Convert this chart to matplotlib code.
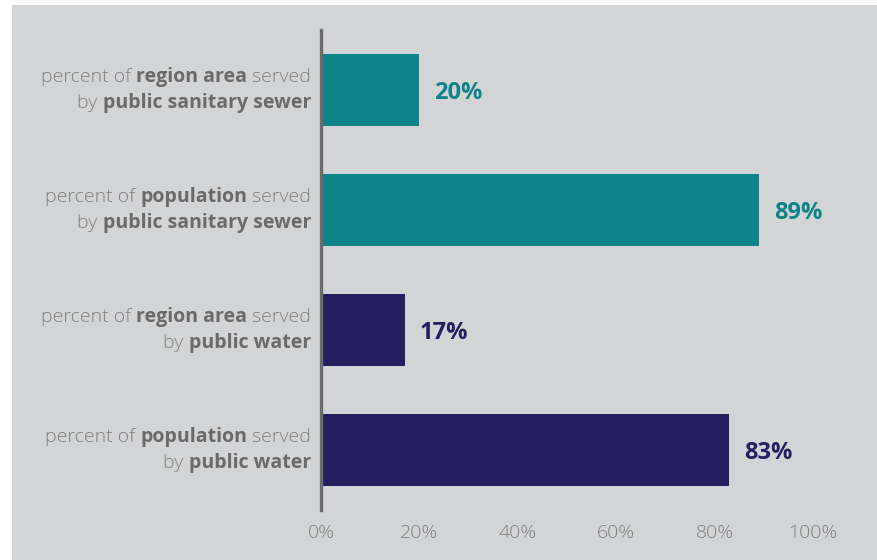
import matplotlib.pyplot as plt
from matplotlib.patches import Rectangle

# data, top to bottom
values = [20, 89, 17, 83]
line1 = [("percent of ", "region area", " served"),
         ("percent of ", "population", " served"),
         ("percent of ", "region area", " served"),
         ("percent of ", "population", " served")]
line2 = [("by ", "public sanitary sewer"),
         ("by ", "public sanitary sewer"),
         ("by ", "public water"),
         ("by ", "public water")]
bar_colors = ["#0e8388", "#0e8388", "#251f5f", "#251f5f"]
xticks = [0, 20, 40, 60, 80, 100]

FONT = "Open Sans"
GRAY = "#7f7f7f"
DARK = "#6a6a6a"

fig = plt.figure(figsize=(8.77, 5.6), dpi=100, facecolor="white")
fig.patches.append(Rectangle((12 / 877, 0), 1, 555 / 560, transform=fig.transFigure,
                             facecolor="#d3d4d6", edgecolor="none", zorder=-10))

ax = fig.add_axes([321 / 877, 50 / 560, 492 / 877, 480 / 560])
ax.set_facecolor("none")
ax.set_zorder(5)

ypos = list(range(len(values)))
ax.barh(ypos, values, height=0.6, color=bar_colors)
ax.set_ylim(len(values) - 0.5, -0.5)
ax.set_xlim(0, 100)

for s in ["top", "right", "bottom"]:
    ax.spines[s].set_visible(False)
ax.spines["left"].set_color("#6b6b6b")
ax.spines["left"].set_linewidth(2.4)

ax.set_yticks([])
ax.set_xticks(xticks)
ax.set_xticklabels([f"{t}%" for t in xticks], fontfamily=FONT, fontweight="light",
                   fontsize=14, color=GRAY)
ax.tick_params(axis="x", length=0, pad=10)

for y, v, c in zip(ypos, values, bar_colors):
    ax.text(v + 3.0, y + 0.025, f"{v}%", va="center", ha="left", color=c,
            fontfamily=FONT, fontweight="bold", fontsize=17)

# multi-weight category labels, drawn right to left
fig.canvas.draw()
renderer = fig.canvas.get_renderer()
inv = fig.transFigure.inverted()
x_right = 311 / 877


def draw_line(parts, y_fig):
    x = x_right
    n = len(parts)
    for i, part in enumerate(reversed(parts)):
        bold = (n - 1 - i) == 1
        t = fig.text(x, y_fig, part, ha="right", va="baseline", fontsize=14,
                     fontfamily=FONT, fontweight="bold" if bold else "light",
                     color=DARK if bold else GRAY, zorder=6)
        bb = t.get_window_extent(renderer)
        x = inv.transform((bb.x0, bb.y0))[0]


for y, l1, l2 in zip(ypos, line1, line2):
    yf = ax.transData.transform((0, y))[1] / fig.bbox.height
    draw_line(l1, yf + 8 / 560)
    draw_line(l2, yf - 18 / 560)

fig.savefig("out.png", dpi=100, facecolor=fig.get_facecolor())
